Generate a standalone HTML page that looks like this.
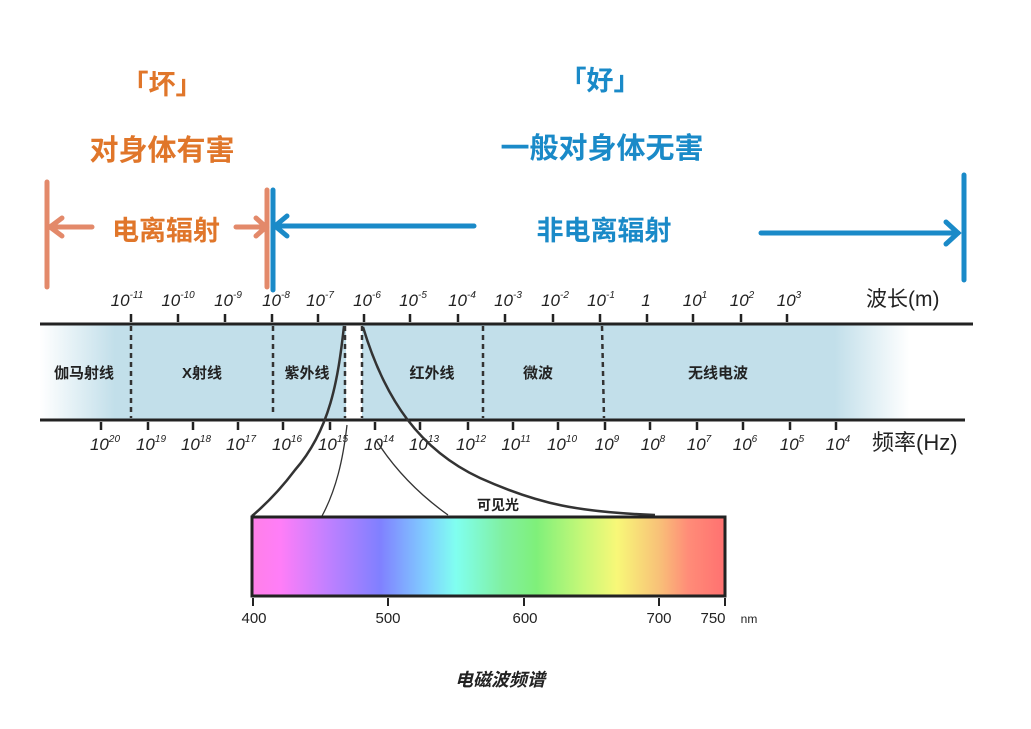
<!DOCTYPE html>
<html><head><meta charset="utf-8"><style>
body{margin:0;background:#fff;width:1031px;height:724px;overflow:hidden}
text{font-family:"Liberation Sans","Noto Sans CJK SC",sans-serif}
</style></head><body>
<svg width="1031" height="724" viewBox="0 0 1031 724" xmlns="http://www.w3.org/2000/svg">
<defs>
<linearGradient id="band" x1="40" x2="975" y1="0" y2="0" gradientUnits="userSpaceOnUse">
<stop offset="0" stop-color="#fff"/><stop offset="0.08" stop-color="#c2dfea"/><stop offset="0.85" stop-color="#c2dfea"/><stop offset="0.93" stop-color="#fff"/><stop offset="1" stop-color="#fff"/>
</linearGradient>
<linearGradient id="spec" x1="252" x2="726" y1="0" y2="0" gradientUnits="userSpaceOnUse">
<stop offset="0" stop-color="#ff80e8"/><stop offset="0.06" stop-color="#ff7ef8"/><stop offset="0.16" stop-color="#c080ff"/><stop offset="0.27" stop-color="#8080ff"/><stop offset="0.37" stop-color="#80d0ff"/><stop offset="0.43" stop-color="#80fff0"/><stop offset="0.53" stop-color="#80f0a0"/><stop offset="0.6" stop-color="#7ff07a"/><stop offset="0.7" stop-color="#c8f878"/><stop offset="0.77" stop-color="#f8f878"/><stop offset="0.86" stop-color="#f8c078"/><stop offset="0.92" stop-color="#ff8c78"/><stop offset="1" stop-color="#ff7070"/>
</linearGradient>
</defs>
<g font-weight="bold" text-anchor="middle">
<text x="162" y="94" font-size="27" fill="#e0762a">「坏」</text>
<text x="162" y="160" font-size="29" fill="#e0762a">对身体有害</text>
<text x="166" y="240" font-size="27" fill="#e0762a">电离辐射</text>
<text x="600" y="90" font-size="27" fill="#1a8ac8">「好」</text>
<text x="602" y="158" font-size="29" fill="#1a8ac8">一般对身体无害</text>
<text x="604" y="240" font-size="27" fill="#1a8ac8">非电离辐射</text>
</g>
<g stroke="#e3896a" stroke-width="5" fill="none" stroke-linecap="round">
<line x1="47" y1="182" x2="47" y2="287"/><line x1="50" y1="227" x2="92" y2="227"/><polyline points="62,218 50,227 62,236"/>
<line x1="236" y1="227" x2="266" y2="227"/><polyline points="256,218 266,227 256,236"/>
<line x1="267" y1="190" x2="267" y2="287"/>
</g>
<g stroke="#1a8ac8" stroke-width="5" fill="none" stroke-linecap="round">
<line x1="273" y1="190" x2="273" y2="290"/><line x1="275" y1="226" x2="474" y2="226"/><polyline points="287,216 275,226 287,236"/>
<line x1="761" y1="233" x2="958" y2="233"/><polyline points="946,222 958,233 946,244"/>
<line x1="964" y1="175" x2="964" y2="280"/>
</g>
<rect x="40" y="324" width="935" height="96" fill="url(#band)"/>
<rect x="346" y="324" width="16" height="96" fill="#fff"/>
<g stroke="#222" stroke-width="3"><line x1="40" y1="324" x2="973" y2="324"/><line x1="40" y1="420" x2="965" y2="420"/></g>
<g stroke="#333" stroke-width="2.5" stroke-dasharray="5,4">
<line x1="131" y1="326" x2="131" y2="418"/><line x1="273" y1="326" x2="273" y2="412"/><line x1="345" y1="326" x2="345" y2="418"/><line x1="362" y1="326" x2="362" y2="418"/><line x1="483" y1="326" x2="483" y2="418"/><line x1="602" y1="326" x2="604" y2="418"/>
</g>
<g stroke="#222" stroke-width="2.5">
<line x1="131" y1="314" x2="131" y2="322"/><line x1="178" y1="314" x2="178" y2="322"/><line x1="225" y1="314" x2="225" y2="322"/><line x1="272" y1="314" x2="272" y2="322"/><line x1="318" y1="314" x2="318" y2="322"/><line x1="364" y1="314" x2="364" y2="322"/><line x1="410" y1="314" x2="410" y2="322"/><line x1="458" y1="314" x2="458" y2="322"/><line x1="505" y1="314" x2="505" y2="322"/><line x1="553" y1="314" x2="553" y2="322"/><line x1="600" y1="314" x2="600" y2="322"/><line x1="647" y1="314" x2="647" y2="322"/><line x1="693" y1="314" x2="693" y2="322"/><line x1="741" y1="314" x2="741" y2="322"/><line x1="787" y1="314" x2="787" y2="322"/>
<line x1="101" y1="422" x2="101" y2="430"/><line x1="148" y1="422" x2="148" y2="430"/><line x1="193" y1="422" x2="193" y2="430"/><line x1="238" y1="422" x2="238" y2="430"/><line x1="283" y1="422" x2="283" y2="430"/><line x1="330" y1="422" x2="330" y2="430"/><line x1="375" y1="422" x2="375" y2="430"/><line x1="420" y1="422" x2="420" y2="430"/><line x1="468" y1="422" x2="468" y2="430"/><line x1="513" y1="422" x2="513" y2="430"/><line x1="558" y1="422" x2="558" y2="430"/><line x1="605" y1="422" x2="605" y2="430"/><line x1="650" y1="422" x2="650" y2="430"/><line x1="697" y1="422" x2="697" y2="430"/><line x1="743" y1="422" x2="743" y2="430"/><line x1="790" y1="422" x2="790" y2="430"/><line x1="836" y1="422" x2="836" y2="430"/>
</g>
<g font-size="17" fill="#222" text-anchor="middle" font-style="italic">
<text x="127" y="306">10<tspan font-size="10" dy="-8">-11</tspan></text>
<text x="178" y="306">10<tspan font-size="10" dy="-8">-10</tspan></text>
<text x="228" y="306">10<tspan font-size="10" dy="-8">-9</tspan></text>
<text x="276" y="306">10<tspan font-size="10" dy="-8">-8</tspan></text>
<text x="320" y="306">10<tspan font-size="10" dy="-8">-7</tspan></text>
<text x="367" y="306">10<tspan font-size="10" dy="-8">-6</tspan></text>
<text x="413" y="306">10<tspan font-size="10" dy="-8">-5</tspan></text>
<text x="462" y="306">10<tspan font-size="10" dy="-8">-4</tspan></text>
<text x="508" y="306">10<tspan font-size="10" dy="-8">-3</tspan></text>
<text x="555" y="306">10<tspan font-size="10" dy="-8">-2</tspan></text>
<text x="601" y="306">10<tspan font-size="10" dy="-8">-1</tspan></text>
<text x="646" y="306">1</text>
<text x="695" y="306">10<tspan font-size="10" dy="-8">1</tspan></text>
<text x="742" y="306">10<tspan font-size="10" dy="-8">2</tspan></text>
<text x="789" y="306">10<tspan font-size="10" dy="-8">3</tspan></text>
<text x="105" y="450">10<tspan font-size="10" dy="-8">20</tspan></text>
<text x="151" y="450">10<tspan font-size="10" dy="-8">19</tspan></text>
<text x="196" y="450">10<tspan font-size="10" dy="-8">18</tspan></text>
<text x="241" y="450">10<tspan font-size="10" dy="-8">17</tspan></text>
<text x="287" y="450">10<tspan font-size="10" dy="-8">16</tspan></text>
<text x="333" y="450">10<tspan font-size="10" dy="-8">15</tspan></text>
<text x="379" y="450">10<tspan font-size="10" dy="-8">14</tspan></text>
<text x="424" y="450">10<tspan font-size="10" dy="-8">13</tspan></text>
<text x="471" y="450">10<tspan font-size="10" dy="-8">12</tspan></text>
<text x="516" y="450">10<tspan font-size="10" dy="-8">11</tspan></text>
<text x="562" y="450">10<tspan font-size="10" dy="-8">10</tspan></text>
<text x="607" y="450">10<tspan font-size="10" dy="-8">9</tspan></text>
<text x="653" y="450">10<tspan font-size="10" dy="-8">8</tspan></text>
<text x="699" y="450">10<tspan font-size="10" dy="-8">7</tspan></text>
<text x="745" y="450">10<tspan font-size="10" dy="-8">6</tspan></text>
<text x="792" y="450">10<tspan font-size="10" dy="-8">5</tspan></text>
<text x="838" y="450">10<tspan font-size="10" dy="-8">4</tspan></text>
</g>
<text x="866" y="306" font-size="21" fill="#222">波长(m)</text>
<text x="872" y="450" font-size="22" fill="#222">频率(Hz)</text>
<g font-size="15" font-weight="bold" fill="#222" text-anchor="middle">
<text x="84" y="378">伽马射线</text><text x="202" y="378">X射线</text><text x="307" y="378">紫外线</text>
<text x="432" y="378">红外线</text><text x="538" y="378">微波</text><text x="718" y="378">无线电波</text>
<text x="498" y="510" font-size="14">可见光</text>
</g>
<g fill="none" stroke="#333">
<path d="M344,326 C338,380 330,430 295,470 C280,490 265,505 252,516" stroke-width="2.5"/>
<path d="M347,425 C343,460 336,490 322,516" stroke-width="1.3"/>
<path d="M376,440 C395,470 420,495 448,515" stroke-width="1.3"/>
<path d="M363,327 C385,400 420,450 480,478 C540,505 580,512 655,515" stroke-width="2.5"/>
</g>
<rect x="252" y="517" width="473" height="79" fill="url(#spec)" stroke="#222" stroke-width="3"/>
<g stroke="#222" stroke-width="2"><line x1="253" y1="598" x2="253" y2="606"/><line x1="388" y1="598" x2="388" y2="606"/><line x1="524" y1="598" x2="524" y2="606"/><line x1="659" y1="598" x2="659" y2="606"/><line x1="725" y1="598" x2="725" y2="606"/></g>
<g font-size="15" fill="#222" text-anchor="middle">
<text x="254" y="623">400</text><text x="388" y="623">500</text><text x="525" y="623">600</text><text x="659" y="623">700</text><text x="713" y="623">750</text><text x="749" y="623" font-size="12">nm</text>
</g>
<text x="500" y="686" font-size="18" font-weight="bold" font-style="italic" text-anchor="middle" fill="#222">电磁波频谱</text>
</svg>
</body></html>
